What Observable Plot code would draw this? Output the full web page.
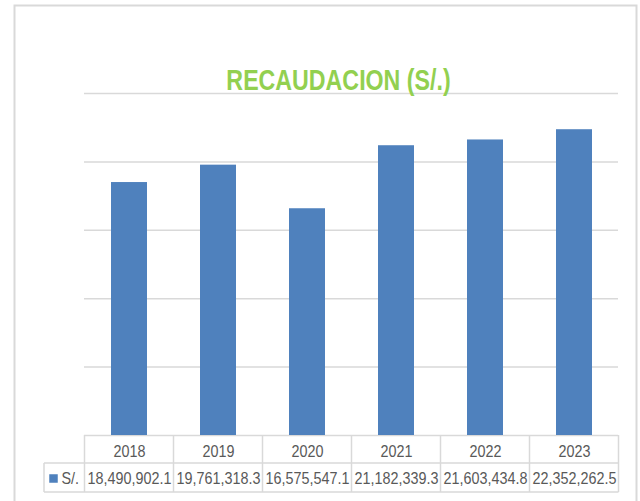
<!DOCTYPE html>
<html>
<head>
<meta charset="utf-8">
<script src="https://cdn.jsdelivr.net/npm/d3@7"></script>
<script src="https://cdn.jsdelivr.net/npm/@observablehq/plot@0.6"></script>
<style>
  html, body { margin: 0; padding: 0; background: #fff; }
  svg { display: block; }
</style>
</head>
<body>
<div id="chart"></div>
<script>
const years = ["2018", "2019", "2020", "2021", "2022", "2023"];
const values = [18490902.1, 19761318.3, 16575547.1, 21182339.3, 21603434.8, 22352262.5];
const yTicks = [0, 5000000, 10000000, 15000000, 20000000, 25000000];
const seriesName = "S/.";
const title = "RECAUDACION (S/.)";

const data = years.map((y, i) => ({year: y, value: values[i]}));
const fmt = d3.format(",.1f");
const font = "'Liberation Sans', Arial, sans-serif";
const textColor = "#595959";
const lineColor = "#d9d9d9";
const barColor = "#4f81bd";

const plot = Plot.plot({
  width: 640,
  height: 501,
  marginLeft: 84,
  marginRight: 22,
  marginTop: 93,
  marginBottom: 66,
  style: {fontFamily: font, background: "#fff"},
  x: {domain: years, paddingInner: 0.6, paddingOuter: 0.3, axis: null},
  y: {domain: [0, 25000000], axis: null},
  marks: [
    Plot.ruleY(yTicks, {stroke: lineColor, strokeWidth: 1.5}),
    Plot.barY(data, {x: "year", y: "value", fill: barColor}),
    Plot.text(data, {x: "year", text: "year", frameAnchor: "bottom", dy: 21, lineAnchor: "bottom", fontSize: 16.5, fill: textColor, className: "cond"}),
    Plot.text(data, {x: "year", text: d => fmt(d.value), frameAnchor: "bottom", dy: 48, lineAnchor: "bottom", fontSize: 16.5, fill: textColor, className: "cond"}),
    Plot.text([seriesName], {text: d => d, frameAnchor: "bottom-left", dx: -23, dy: 48, lineAnchor: "bottom", textAnchor: "start", fontSize: 16.5, fill: textColor, className: "cond"}),
    Plot.dot([seriesName], {frameAnchor: "bottom-left", dx: -31, dy: 43, symbol: "square", r: 4.8, fill: barColor, stroke: "none"}),
    Plot.text([title], {text: d => d, frameAnchor: "top", dx: -13, dy: -4, lineAnchor: "bottom", fontSize: 29, fontWeight: "bold", fill: "#92d050", className: "ttl"})
  ]
});

document.getElementById("chart").appendChild(plot);

const svg = d3.select(plot);

// Emulate a condensed (Calibri-like) face by compressing glyphs horizontally
function condense(selector, factor) {
  svg.selectAll(selector + " text").each(function () {
    const w = this.getComputedTextLength();
    if (w > 0) {
      this.setAttribute("textLength", (w * factor).toFixed(2));
      this.setAttribute("lengthAdjust", "spacingAndGlyphs");
    }
  });
}
condense(".cond", 0.87);
condense(".ttl", 0.8);

// Table grid and outer border, positioned from the plot's own x scale
const xs = plot.scale("x");
const step = xs.step;
const centers = years.map(y => xs.apply(y) + xs.bandwidth / 2);
const edges = [centers[0] - step / 2, ...centers.map(c => c + step / 2)];
const yBase = 435, yMid = 463, yBot = 492;
const legendLeft = 44;
const g = svg.append("g").attr("stroke", lineColor).attr("stroke-width", 1.5).attr("fill", "none");
g.append("line").attr("x1", edges[0]).attr("x2", edges[edges.length - 1]).attr("y1", yMid).attr("y2", yMid);
g.append("line").attr("x1", legendLeft).attr("x2", edges[edges.length - 1]).attr("y1", yBot).attr("y2", yBot);
g.append("line").attr("x1", legendLeft).attr("x2", edges[0]).attr("y1", yMid).attr("y2", yMid);
edges.forEach(x => g.append("line").attr("x1", x).attr("x2", x).attr("y1", yBase).attr("y2", yBot));
g.append("line").attr("x1", legendLeft).attr("x2", legendLeft).attr("y1", yMid).attr("y2", yBot);
svg.append("path")
  .attr("d", "M14.5,510V5.5H636.5V510")
  .attr("stroke", lineColor).attr("stroke-width", 2).attr("fill", "none");
</script>
</body>
</html>
